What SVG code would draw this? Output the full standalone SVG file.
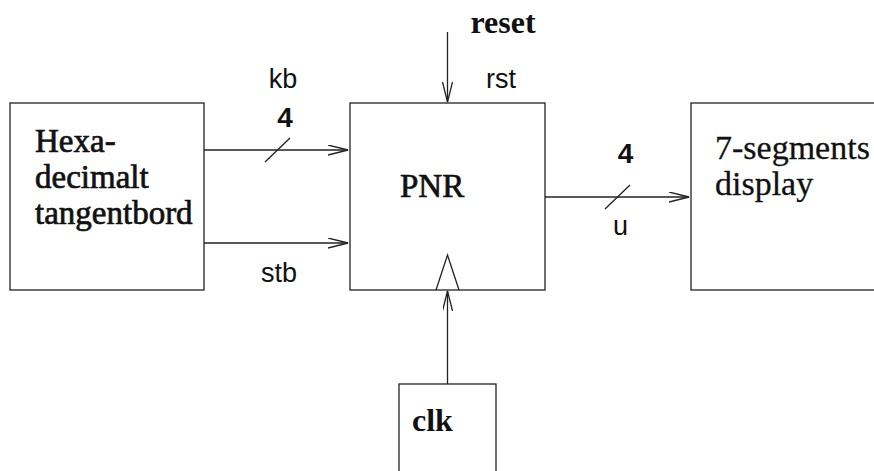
<svg xmlns="http://www.w3.org/2000/svg" width="874" height="471" viewBox="0 0 874 471">
<style>
.box{fill:#fff;stroke:#222;stroke-width:1.3}
.ln{fill:none;stroke:#222;stroke-width:1.3}
.serif{font-family:"Liberation Serif","Times New Roman",serif;font-size:33px;fill:#111}
.heavy{stroke:#111;stroke-width:0.7}
.disp{font-size:34px;stroke:#111;stroke-width:0.3}
.bserif{font-family:"Liberation Serif","Times New Roman",serif;font-size:32px;font-weight:bold;fill:#111}
.sans{font-family:"Liberation Sans",Arial,sans-serif;font-size:27px;fill:#111}
.bsans{font-family:"Liberation Sans",Arial,sans-serif;font-size:28px;font-weight:bold;fill:#111}
</style>
<defs>
<marker id="ah" markerWidth="22" markerHeight="12" refX="20" refY="5" orient="auto" markerUnits="userSpaceOnUse">
<path d="M0,0 L20,5 L0,10" fill="none" stroke="#222" stroke-width="1.3"/>
</marker>
</defs>
<rect width="874" height="471" fill="#fff"/>
<g id="keyboard">
<rect class="box" x="10" y="103" width="194" height="187"/>
<text class="serif heavy" x="35" y="152">Hexa-</text>
<text class="serif heavy" x="35" y="188">decimalt</text>
<text class="serif heavy" x="35" y="224">tangentbord</text>
</g>
<g id="pnr">
<rect class="box" x="350" y="103" width="195" height="187"/>
<text class="serif heavy" x="400" y="197">PNR</text>
<path class="ln" d="M436,290 L447.5,255 L459,290"/>
</g>
<g id="display">
<rect class="box" x="691" y="103" width="200" height="187"/>
<text class="serif disp" x="715" y="159">7-segments</text>
<text class="serif disp" x="715" y="195">display</text>
</g>
<g id="clk">
<rect class="box" x="399" y="384" width="97" height="100"/>
<text class="bserif" x="412" y="431">clk</text>
</g>
<g id="reset">
<text class="bserif" x="503" y="33" text-anchor="middle">reset</text>
</g>
<g id="connectors">
<line class="ln" x1="204" y1="150" x2="348" y2="150" marker-end="url(#ah)"/>
<line class="ln" x1="265" y1="162" x2="290" y2="138"/>
<line class="ln" x1="204" y1="243" x2="348" y2="243" marker-end="url(#ah)"/>
<line class="ln" x1="545" y1="197" x2="689" y2="197" marker-end="url(#ah)"/>
<line class="ln" x1="605" y1="209" x2="630" y2="185"/>
<line class="ln" x1="447.5" y1="32" x2="447.5" y2="102" marker-end="url(#ah)"/>
<line class="ln" x1="447.5" y1="384" x2="447.5" y2="291" marker-end="url(#ah)"/>
<text class="sans" x="283" y="88" text-anchor="middle">kb</text>
<text class="bsans" x="285" y="127" text-anchor="middle">4</text>
<text class="sans" x="279" y="282" text-anchor="middle">stb</text>
<text class="sans" x="501" y="88" text-anchor="middle">rst</text>
<text class="bsans" x="625.5" y="163" text-anchor="middle">4</text>
<text class="sans" x="620.5" y="235" text-anchor="middle">u</text>
</g>
</svg>
